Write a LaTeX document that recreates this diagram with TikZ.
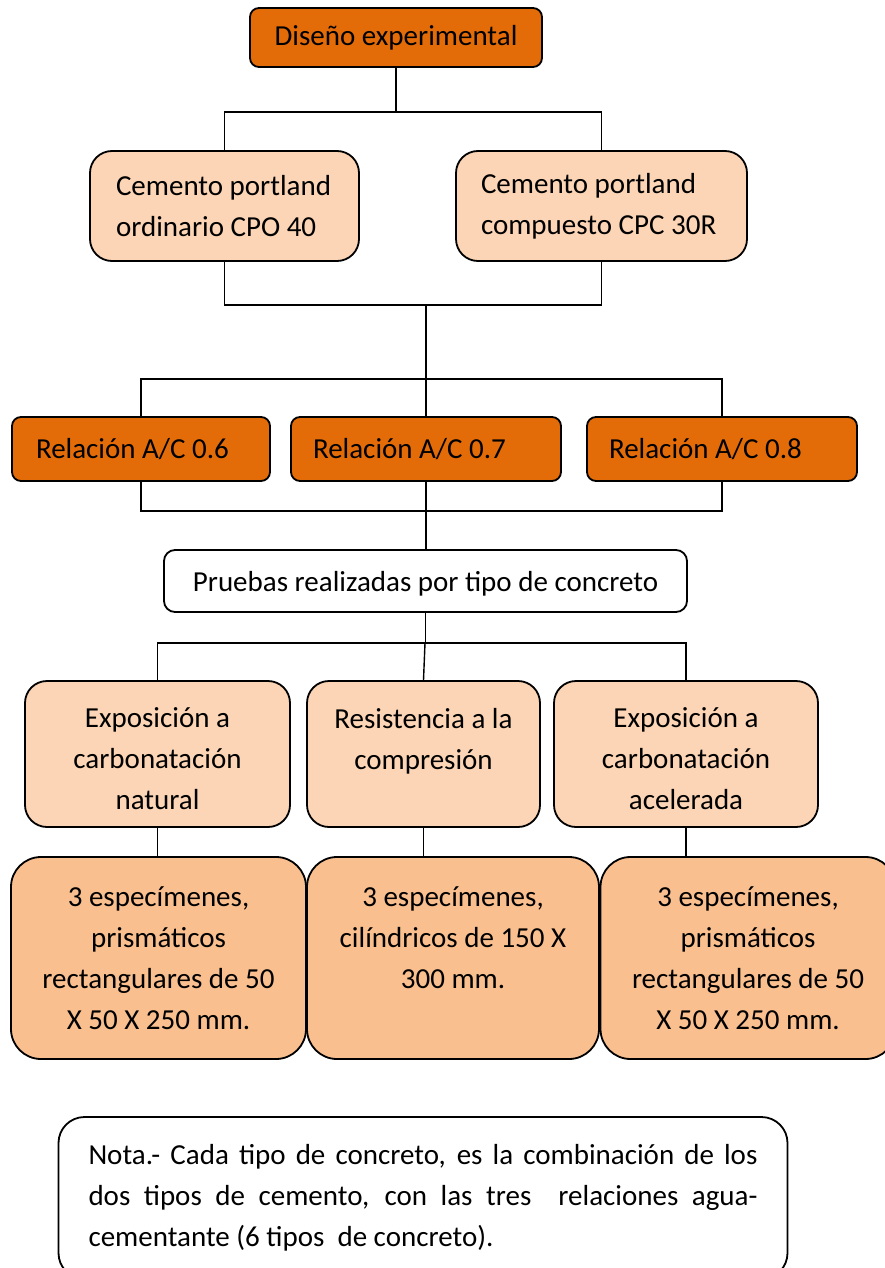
\documentclass[tikz,border=0pt]{standalone}
\usepackage{fontspec}
\setmainfont{Carlito}
\definecolor{dorange}{HTML}{E36C09}
\definecolor{lpeach}{HTML}{FBD5B5}
\definecolor{mpeach}{HTML}{F9BF8F}
\newcommand{\tallstrut}{\rule{0pt}{30pt}}
\begin{document}
\begin{tikzpicture}[x=1pt,y=-1pt,
  base/.style={draw=black,line width=1.8pt,rectangle,inner sep=0pt,
    font=\fontsize{29}{41}\selectfont,text=black},
  darkbox/.style={base,fill=dorange,rounded corners=9pt},
  lightbox/.style={base,fill=lpeach,rounded corners=22pt},
  specbox/.style={base,fill=mpeach,rounded corners=30pt},
  whitebox/.style={base,fill=white,rounded corners=11pt},
  conn/.style={draw=black,line width=1.4pt}]
\useasboundingbox (0,0) rectangle (884,1268);

% nodes
\node[darkbox,minimum width=292pt,minimum height=59pt] (top) at (396,37.5) {Diseño experimental};

\node[lightbox,minimum width=269pt,minimum height=110pt,text width=217pt,align=flush left] (cL) at (224.5,206)
  {\mbox{Cemento portland}\\\mbox{ordinario CPO 40}};
\node[lightbox,minimum width=291pt,minimum height=110pt,text width=241pt,align=flush left] (cR) at (601.5,206)
  {\mbox{Cemento portland}\\\mbox{compuesto CPC 30R}};

\node[darkbox,minimum width=258pt,minimum height=64pt,text width=210pt,align=flush left] (r6) at (141,449) {\mbox{Relación A/C 0.6}};
\node[darkbox,minimum width=270pt,minimum height=64pt,text width=226pt,align=flush left] (r7) at (426,449) {\mbox{Relación A/C 0.7}};
\node[darkbox,minimum width=270pt,minimum height=64pt,text width=226pt,align=flush left] (r8) at (722,449) {\mbox{Relación A/C 0.8}};

\node[whitebox,minimum width=523pt,minimum height=62pt] (pr) at (425.5,581) {\rule{0pt}{25pt}Pruebas realizadas por tipo de concreto};

\node[lightbox,minimum width=265pt,minimum height=146pt,align=center] (t1) at (157.5,754)
  {\tallstrut Exposición a\\carbonatación\\natural};
\node[lightbox,minimum width=233pt,minimum height=146pt,align=center] (t2) at (423.5,754)
  {\tallstrut Resistencia a la\\compresión\\\mbox{}};
\node[lightbox,minimum width=264pt,minimum height=146pt,align=center] (t3) at (686,754)
  {\tallstrut Exposición a\\carbonatación\\acelerada};

\node[specbox,minimum width=295pt,minimum height=202pt,align=center] (s1) at (158.5,958)
  {3 especímenes,\\prismáticos\\rectangulares de 50\\X 50 X 250 mm.};
\node[specbox,minimum width=292pt,minimum height=202pt,align=center] (s2) at (453,958)
  {3 especímenes,\\cilíndricos de 150 X\\300 mm.\\\mbox{}};
\node[specbox,minimum width=295pt,minimum height=202pt,align=center] (s3) at (748,958)
  {3 especímenes,\\prismáticos\\rectangulares de 50\\X 50 X 250 mm.};

\node[whitebox,rounded corners=26pt,minimum width=729pt,minimum height=162pt,text width=669pt,align=flush left] (note) at (423,1198)
  {\makebox[669pt][s]{Nota.- Cada tipo de concreto, es la combinación de los}\\
   \makebox[669pt][s]{dos tipos de cemento, con las tres \ relaciones agua-}\\
   \mbox{cementante (6 tipos \ de concreto).}};

% junctions
\coordinate (j1) at (396,112);
\coordinate (j2) at (426,305);
\coordinate (j3) at (426,379);
\coordinate (j4) at (426,511);
\coordinate (j5) at (425,643);

% connectors
\draw[conn] (top.south) -- (j1);
\draw[conn] (cL.north) -- (cL.north |- j1) -- (cR.north |- j1) -- (cR.north);
\draw[conn] (cL.south) -- (cL.south |- j2) -- (cR.south |- j2) -- (cR.south);
\draw[conn] (j2) -- (r7.north);
\draw[conn] (r6.north) -- (r6.north |- j3) -- (r8.north |- j3) -- (r8.north);
\draw[conn] (r6.south) -- (r6.south |- j4) -- (r8.south |- j4) -- (r8.south);
\draw[conn] (r7.south) -- (r7.south |- pr.north);
\draw[conn] (pr.south) -- (pr.south |- j5);
\draw[conn] (t1.north) -- (t1.north |- j5) -- (t3.north |- j5) -- (t3.north);
\draw[conn] (j5) -- (t2.north);
\draw[conn] (t1.south) -- (t1.south |- s1.north);
\draw[conn] (t2.south) -- (t2.south |- s2.north);
\draw[conn] (t3.south) -- (t3.south |- s3.north);
\end{tikzpicture}
\end{document}
